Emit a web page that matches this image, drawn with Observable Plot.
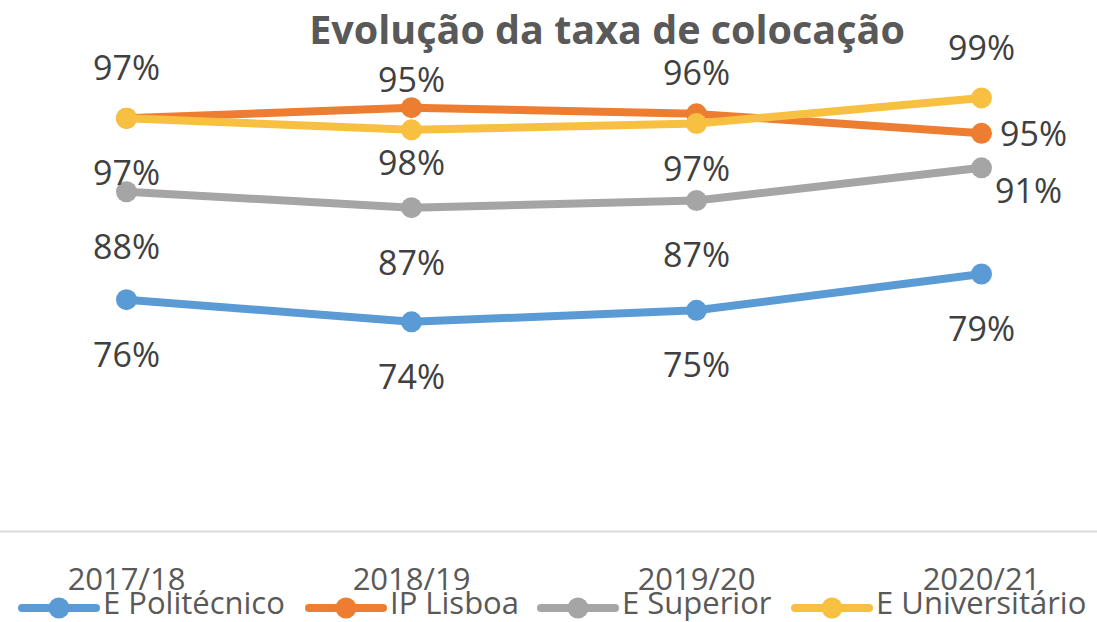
<!DOCTYPE html>
<html>
<head>
<meta charset="utf-8">
<script src="https://cdn.jsdelivr.net/npm/d3@7"></script>
<script src="https://cdn.jsdelivr.net/npm/@observablehq/plot@0.6"></script>
<style>
  body { margin: 0; background: #fff; }
  #wrap { position: relative; width: 1097px; height: 622px; overflow: hidden; font-family: "Open Sans", sans-serif; }
  #title { position: absolute; top: 10px; left: 607px; transform: translateX(-50%); white-space: nowrap;
           font-size: 39.5px; line-height: 39.5px; font-weight: 700; color: #595959; }
  #chart { position: absolute; left: 0; top: 0; }
  .leg-sw { position: absolute; top: 596px; }
  .leg-tx { position: absolute; top: 587px; font-size: 31px; line-height: 31px; color: #595959; white-space: nowrap; }
</style>
</head>
<body>
<div id="wrap">
  <div id="chart"></div>
  <div id="title">Evolução da taxa de colocação</div>
  <div id="legend"></div>
</div>
<script>
// ---- data ----
const years = ["2017/18", "2018/19", "2019/20", "2020/21"];
const seriesNames = ["E Politécnico", "IP Lisboa", "E Superior", "E Universitário"];
const ePolitecnico = [76.2, 73.7, 75.0, 79.1];
const ipLisboa = [96.7, 97.9, 97.2, 95.0];
const eSuperior = [88.4, 86.6, 87.4, 91.1];
const eUniversitario = [96.7, 95.4, 96.1, 99.0];
const seriesColors = ["#5B9BD5", "#ED7D31", "#A5A5A5", "#F8C041"];

const valuesBySeries = [ePolitecnico, ipLisboa, eSuperior, eUniversitario];
const rows = seriesNames.flatMap((s, k) =>
  valuesBySeries[k].map((v, i) => ({series: s, year: years[i], value: v, i})));
const fmt = d => Math.round(d.value) + "%";
const of = s => rows.filter(d => d.series === s);

const labelStyle = {x: "year", y: "value", text: fmt, fontSize: 34, fill: "#404040"};

const marks = [
  Plot.ruleY([50], {stroke: "#d9d9d9", strokeWidth: 2}),
  Plot.axisX({tickSize: 0, tickPadding: 36, fontSize: 31, fill: "#595959", label: null})
];
seriesNames.forEach((s, k) => {
  marks.push(Plot.line(of(s), {x: "year", y: "value", stroke: seriesColors[k], strokeWidth: 8}));
  marks.push(Plot.dot(of(s), {x: "year", y: "value", fill: seriesColors[k], r: 10.5}));
});
// data labels
marks.push(Plot.text(of("E Universitário"), {...labelStyle, dy: -49}));
marks.push(Plot.text(of("IP Lisboa").filter(d => d.i < 3), {...labelStyle, dy: 56}));
marks.push(Plot.text(of("IP Lisboa").filter(d => d.i === 3), {...labelStyle, dx: 52, dy: 2}));
marks.push(Plot.text(of("E Superior").filter(d => d.i < 3), {...labelStyle, dy: 56}));
marks.push(Plot.text(of("E Superior").filter(d => d.i === 3), {...labelStyle, dx: 47, dy: 24}));
marks.push(Plot.text(of("E Politécnico"), {...labelStyle, dy: 56}));

const chart = Plot.plot({
  width: 1097,
  height: 622,
  marginTop: 0,
  marginBottom: 91,
  marginLeft: 0,
  marginRight: 0,
  x: {type: "point", domain: years, range: [125, 982], padding: 0, axis: null},
  y: {domain: [50, 100], range: [531, 88.6], axis: null},
  style: {fontFamily: "Open Sans", background: "transparent", overflow: "visible"},
  marks
});
document.getElementById("chart").appendChild(chart);

// legend
const legend = document.getElementById("legend");
const swLeft = [18, 305, 537, 791];
const txLeft = [103, 390, 622, 876];
seriesNames.forEach((s, k) => {
  const sw = document.createElementNS("http://www.w3.org/2000/svg", "svg");
  sw.setAttribute("class", "leg-sw");
  sw.setAttribute("width", 82);
  sw.setAttribute("height", 24);
  sw.style.left = swLeft[k] + "px";
  sw.innerHTML = `<line x1="4" x2="78" y1="12" y2="12" stroke="${seriesColors[k]}" stroke-width="8" stroke-linecap="round"/>` +
                 `<circle cx="41" cy="12" r="10.5" fill="${seriesColors[k]}"/>`;
  legend.appendChild(sw);
  const tx = document.createElement("div");
  tx.className = "leg-tx";
  tx.style.left = txLeft[k] + "px";
  tx.textContent = s;
  legend.appendChild(tx);
});
</script>
</body>
</html>
